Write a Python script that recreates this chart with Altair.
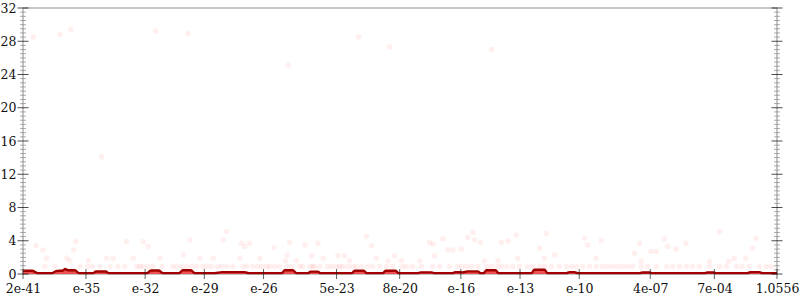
import altair as alt
import pandas as pd

# ---------------- data ----------------
# x values are log10 exponents; tick labels as printed on the chart
x_tick_values = [-38.19, -35, -32, -29, -26, -22.3, -19.1, -16, -13, -10, -6.4, -3.15, 0.0235]
x_tick_labels = ["2e-41", "e-35", "e-32", "e-29", "e-26", "5e-23", "8e-20", "e-16", "e-13",
                 "e-10", "4e-07", "7e-04", "1.0556"]
y_major = [0, 4, 8, 12, 16, 20, 24, 28, 32]
y_minor = [v / 2 for v in range(0, 65) if v % 8 != 0]

# faint scatter: sparse high values
hi_x = [-37.67, -36.32, -35.76, -31.47, -29.82, -21.18, -19.61, -14.44, -24.74, -34.21]
hi_y = [28.5, 28.8, 29.4, 29.2, 28.9, 28.5, 27.3, 27.0, 25.1, 14.1]

# faint scatter: mid values
mid_x = [-37.53, -37.18, -35.51, -35.61, -36.99, -35.98, -35.81, -34.88, -33.95, -33.62,
         -32.94, -32.61, -32.10, -31.85, -31.25, -30.07, -29.73, -29.23, -28.55, -28.05,
         -27.88, -27.20, -26.95, -27.12, -26.70, -26.19, -25.47, -24.81, -24.67, -24.89,
         -24.33, -23.91, -23.57, -23.24, -22.98, -22.23, -21.89, -21.63, -20.79, -20.53,
         -20.28, -19.69, -19.35, -19.01, -18.09, -17.58, -17.41, -17.33, -16.91, -16.66,
         -16.40, -15.98, -15.64, -15.39, -15.30, -15.00, -14.80, -14.12, -13.95, -13.62,
         -13.19, -13.11, -12.01, -11.67, -11.76, -11.25, -9.73, -9.57, -9.14, -8.89,
         -7.20, -6.94, -6.86, -6.36, -6.10, -5.68, -5.52, -5.09, -4.59, -2.90,
         -3.40, -2.43, -2.15, -1.56, -1.22, -1.05]
mid_y = [3.4, 2.9, 3.9, 2.9, 1.9, 1.9, 1.6, 1.6, 1.9, 1.9,
         3.9, 1.9, 3.9, 3.3, 1.9, 2.3, 4.1, 1.9, 1.9, 4.1,
         5.1, 1.9, 3.3, 3.7, 3.7, 1.9, 3.2, 2.3, 3.8, 1.6,
         1.6, 3.5, 2.2, 3.7, 1.9, 2.2, 2.2, 1.6, 4.5, 3.4,
         1.9, 1.6, 2.2, 1.6, 1.6, 3.8, 3.6, 2.2, 4.2, 2.9,
         2.9, 3.0, 4.4, 5.0, 4.1, 3.8, 1.6, 1.6, 3.8, 4.0,
         4.7, 1.9, 3.1, 4.9, 1.9, 2.3, 4.3, 3.5, 1.9, 4.0,
         2.5, 3.7, 1.5, 2.7, 2.7, 4.2, 3.3, 3.0, 3.7, 5.1,
         1.5, 1.5, 1.9, 1.9, 3.1, 4.3]

# faint scatter: dense row near 1
row_x = [-37.08, -36.57, -35.30, -34.90, -34.65, -34.29, -33.78, -33.38, -33.03, -32.42,
         -32.27, -32.11, -31.86, -31.61, -31.15, -30.60, -30.39, -30.14, -29.89, -29.63,
         -29.38, -29.08, -28.87, -28.62, -28.32, -28.11, -27.86, -27.56, -27.05, -26.85,
         -26.54, -26.29, -26.09, -25.84, -25.68, -25.43, -25.18, -24.82, -24.57, -24.17,
         -24.01, -23.66, -23.51, -23.41, -23.15, -22.75, -22.54, -22.29, -22.14, -21.99,
         -21.73, -21.48, -21.28, -21.03, -20.72, -20.47, -20.11, -19.76, -19.46, -18.95,
         -18.75, -18.44, -17.99, -17.43, -17.08, -16.57, -16.17, -15.96, -15.71, -15.46,
         -15.15, -14.70, -14.44, -14.14, -13.94, -13.68, -13.38, -13.03, -12.62, -12.37,
         -12.01, -11.76, -11.41, -11.00, -10.65, -10.39, -10.14, -9.84, -9.48, -9.13,
         -8.82, -8.57, -8.32, -8.06, -7.81, -7.56, -7.30, -6.85, -6.54, -6.09,
         -5.58, -5.28, -4.92, -4.57, -4.26, -3.91, -3.40, -2.89, -2.54, -2.03,
         -1.74, -1.38, -0.87, -0.52, -0.27]
row_y = [0.9] * len(row_x)

# area / line profile
area_x = [-38.19, -37.73, -37.43, -36.72, -36.52, -36.16, -36.06, -35.91, -35.56, -35.35,
          -34.65, -34.49, -33.99, -33.84, -31.91, -31.71, -31.30, -31.10, -30.29, -30.09,
          -29.68, -29.48, -28.47, -28.11, -26.95, -26.75, -25.08, -24.92, -24.52, -24.32,
          -23.76, -23.61, -23.25, -23.10, -21.53, -21.38, -20.92, -20.77, -19.96, -19.81,
          -19.30, -19.15, -18.19, -18.04, -17.48, -17.33, -16.42, -16.27, -15.91, -15.66,
          -15.15, -15.00, -14.85, -14.70, -14.24, -14.09, -12.42, -12.27, -11.76, -11.61,
          -10.65, -10.49, -10.24, -10.09, -6.95, -6.80, -6.44, -6.29, -3.66, -3.51,
          -3.20, -3.05, -1.48, -1.33, -0.87, -0.72, 0.0235]
area_y = [0.40, 0.40, 0.10, 0.10, 0.35, 0.42, 0.60, 0.45, 0.45, 0.10,
          0.10, 0.30, 0.30, 0.10, 0.10, 0.42, 0.42, 0.10, 0.10, 0.45,
          0.45, 0.10, 0.10, 0.22, 0.22, 0.10, 0.10, 0.45, 0.45, 0.10,
          0.10, 0.28, 0.28, 0.10, 0.10, 0.40, 0.40, 0.10, 0.10, 0.40,
          0.40, 0.10, 0.10, 0.20, 0.20, 0.10, 0.10, 0.22, 0.20, 0.32,
          0.32, 0.10, 0.10, 0.45, 0.45, 0.10, 0.10, 0.52, 0.52, 0.10,
          0.10, 0.22, 0.22, 0.10, 0.10, 0.18, 0.18, 0.10, 0.10, 0.18,
          0.18, 0.10, 0.10, 0.22, 0.22, 0.10, 0.10]

# ---------------- chart ----------------
W, H = 754, 266
FONT = "DejaVu Serif"
FS = 12.5

pts = pd.DataFrame({
    "x": hi_x + mid_x + row_x,
    "y": hi_y + mid_y + row_y,
})
area_df = pd.DataFrame({"x": area_x, "y": area_y})

xscale = alt.Scale(domain=[x_tick_values[0], x_tick_values[-1]], nice=False, zero=False)
yscale = alt.Scale(domain=[0, 32], nice=False, zero=False)

label_expr = "[" + ",".join("'%s'" % s for s in x_tick_labels) + "][indexof([" + \
    ",".join(str(v) for v in x_tick_values) + "], datum.value)]"

xaxis = alt.Axis(values=x_tick_values, labelExpr=label_expr, title=None, grid=False,
                 ticks=False, domain=False, labelFont=FONT, labelFontSize=FS,
                 labelColor="#111", labelPadding=8, labelOverlap=False, labelBound=False,
                 labelFlush=False)
yaxis = alt.Axis(values=y_major, title=None, grid=False, ticks=False, domain=False,
                 labelFont=FONT, labelFontSize=FS, labelColor="#111", labelPadding=7)


def X(field):
    return alt.X(field, type="quantitative", scale=xscale, axis=xaxis, title=None)


def Y(field):
    return alt.Y(field, type="quantitative", scale=yscale, axis=yaxis, title=None)


points = alt.Chart(pts).mark_circle(size=30, color="#ff1a1a", opacity=0.07, clip=True).encode(
    x=X("x"), y=Y("y"))

area = alt.Chart(area_df).mark_area(color="#ee4a4a", opacity=0.95, interpolate="monotone").encode(
    x=X("x"), y=Y("y"))
line = alt.Chart(area_df).mark_line(color="#a00000", strokeWidth=2.4, interpolate="monotone").encode(
    x=X("x"), y=Y("y"))

major_df = pd.DataFrame({"v": y_major})
minor_df = pd.DataFrame({"v": y_minor})
xt_df = pd.DataFrame({"v": x_tick_values})


def ytick(df, xpos, size, color):
    return alt.Chart(df).mark_tick(size=size, thickness=1, color=color).encode(
        y=Y("v"), x=alt.value(xpos))


ticks = [
    ytick(minor_df, 0, 6, "#8a8a8a"), ytick(minor_df, W, 6, "#8a8a8a"),
    ytick(major_df, 0, 11, "#000000"), ytick(major_df, W, 11, "#000000"),
    alt.Chart(xt_df).mark_tick(size=10, thickness=1, color="#222").encode(
        x=X("v"), y=alt.value(H)),
]

chart = alt.layer(points, area, line, *ticks).properties(
    width=W, height=H,
    autosize=alt.AutoSizeParams(type="none"),
    padding={"left": 23, "top": 8, "right": 23, "bottom": 26},
    background="white",
).configure_view(stroke="#b4b4b4", strokeWidth=1.5)

chart.save("out.html", embed_options={"renderer": "svg", "actions": False})
